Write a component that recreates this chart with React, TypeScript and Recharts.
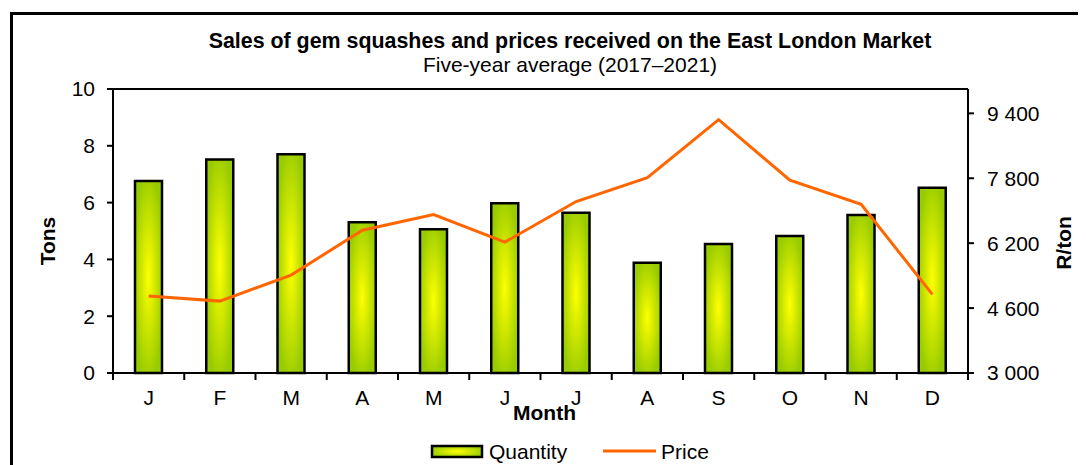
import React from 'react';
import {
  ComposedChart, Bar, Line, XAxis, YAxis, Legend, ReferenceLine,
} from 'recharts';

// monthly averages
const MONTHS = ['J', 'F', 'M', 'A', 'M', 'J', 'J', 'A', 'S', 'O', 'N', 'D'];
const QUANTITY = [6.76, 7.52, 7.7, 5.31, 5.06, 5.98, 5.64, 3.88, 4.54, 4.82, 5.56, 6.52];
const PRICE = [4895, 4772, 5412, 6520, 6906, 6225, 7226, 7817, 9245, 7751, 7160, 4937];
const TONS_TICKS = [0, 2, 4, 6, 8, 10];
const PRICE_TICKS = [3000, 4600, 6200, 7800, 9400];

const W = 1078;
const H = 457;
const MARGIN = { top: 81, right: 0, left: 0, bottom: 8 };
const LEFT_W = 105;
const RIGHT_W = 118;
const PLOT_W = W - LEFT_W - RIGHT_W;
const FONT = '"Liberation Sans", Arial, sans-serif';
const ORANGE = '#ff6600';

const data = MONTHS.map((m, i) => ({ month: m, quantity: QUANTITY[i], price: PRICE[i] }));

const fmtPrice = (v: number) => String(v).replace(/\B(?=(\d{3})+(?!\d))/g, ' ');

function MonthTick({ x, y, payload, index }: any) {
  const half = PLOT_W / MONTHS.length / 2;
  const last = index === MONTHS.length - 1;
  return (
    <g>
      <line x1={x - half} x2={x - half} y1={y} y2={y + 7} stroke="#000" strokeWidth={2} />
      {last && <line x1={x + half} x2={x + half} y1={y} y2={y + 7} stroke="#000" strokeWidth={2} />}
      <text x={x} y={y + 32} textAnchor="middle" fontSize={21} fontFamily={FONT} fill="#000">
        {payload.value}
      </text>
    </g>
  );
}

function ChartLegend() {
  return (
    <div style={{ position: 'relative', height: 24, width: W, fontFamily: FONT, fontSize: 21 }}>
      <svg width={56} height={24} style={{ position: 'absolute', left: 422, top: 0 }}>
        <rect x={2} y={6} width={50} height={11} fill="url(#gemGradLegend)" stroke="#000" strokeWidth={2.5} />
        <defs>
          <radialGradient id="gemGradLegend" cx="50%" cy="50%" r="55%">
            <stop offset="0%" stopColor="#ffff00" />
            <stop offset="100%" stopColor="#99cc00" />
          </radialGradient>
        </defs>
      </svg>
      <span style={{ position: 'absolute', left: 481, top: 0, lineHeight: '24px' }}>Quantity</span>
      <svg width={56} height={24} style={{ position: 'absolute', left: 595, top: 0 }}>
        <line x1={0} x2={53} y1={11} y2={11} stroke={ORANGE} strokeWidth={3} />
      </svg>
      <span style={{ position: 'absolute', left: 653, top: 0, lineHeight: '24px' }}>Price</span>
    </div>
  );
}

export default function App() {
  return (
    <div style={{ position: 'relative', width: W, height: H, overflow: 'hidden', fontFamily: FONT }}>
      <div
        style={{
          position: 'absolute', left: 2, top: 4, width: W - 5, height: H - 4,
          borderLeft: '3px solid #000', borderTop: '3px solid #000',
        }}
      />
      <div style={{ position: 'absolute', left: 62, width: 1000, top: 21, lineHeight: '24px', fontSize: 21.4, fontWeight: 'bold', textAlign: 'center' }}>
        Sales of gem squashes and prices received on the East London Market
      </div>
      <div style={{ position: 'absolute', left: 62, width: 1000, top: 45, lineHeight: '24px', fontSize: 21, textAlign: 'center' }}>
        Five-year average (2017–2021)
      </div>
      <ComposedChart width={W} height={H} data={data} margin={MARGIN}>
        <defs>
          <radialGradient id="gemGrad" cx="50%" cy="50%" r="55%">
            <stop offset="0%" stopColor="#ffff00" />
            <stop offset="100%" stopColor="#99cc00" />
          </radialGradient>
        </defs>
        <XAxis
          dataKey="month"
          height={60}
          tick={<MonthTick />}
          tickLine={false}
          tickSize={0}
          tickMargin={0}
          interval={0}
          axisLine={{ stroke: '#000', strokeWidth: 2 }}
          label={{
            content: ({ viewBox }: any) => (
              <text
                x={viewBox.x + viewBox.width / 2 + 4}
                y={viewBox.y + 47}
                textAnchor="middle"
                fontSize={21}
                fontWeight="bold"
                fontFamily={FONT}
                fill="#000"
              >
                Month
              </text>
            ),
          }}
        />
        <YAxis
          yAxisId="left"
          width={LEFT_W}
          domain={[0, 10]}
          ticks={TONS_TICKS}
          interval={0}
          tick={{ fontSize: 21, fill: '#000', fontFamily: FONT }}
          tickSize={6}
          tickMargin={12}
          tickLine={{ stroke: '#000', strokeWidth: 2 }}
          axisLine={{ stroke: '#000', strokeWidth: 2 }}
          label={{
            content: ({ viewBox }: any) => {
              const cx = viewBox.x + 39;
              const cy = viewBox.y + viewBox.height / 2 + 10;
              return (
                <text
                  x={cx}
                  y={cy}
                  transform={`rotate(-90 ${cx} ${cy})`}
                  textAnchor="middle"
                  dominantBaseline="central"
                  fontSize={21}
                  fontWeight="bold"
                  fontFamily={FONT}
                  fill="#000"
                >
                  Tons
                </text>
              );
            },
          }}
        />
        <YAxis
          yAxisId="right"
          orientation="right"
          width={RIGHT_W}
          domain={[3000, 10000]}
          ticks={PRICE_TICKS}
          interval={0}
          tickFormatter={fmtPrice}
          tick={{ fontSize: 21, fill: '#000', fontFamily: FONT }}
          tickSize={6}
          tickMargin={13}
          tickLine={{ stroke: '#000', strokeWidth: 2 }}
          axisLine={{ stroke: '#000', strokeWidth: 2 }}
          label={{
            content: ({ viewBox }: any) => {
              const cx = viewBox.x + 95;
              const cy = viewBox.y + viewBox.height / 2 + 12;
              return (
                <text
                  x={cx}
                  y={cy}
                  transform={`rotate(-90 ${cx} ${cy})`}
                  textAnchor="middle"
                  dominantBaseline="central"
                  fontSize={21}
                  fontWeight="bold"
                  fontFamily={FONT}
                  fill="#000"
                >
                  R/ton
                </text>
              );
            },
          }}
        />
        <ReferenceLine yAxisId="left" y={10} stroke="#000" strokeWidth={2} />
        <Legend
          verticalAlign="bottom"
          wrapperStyle={{ top: 432, left: 0, width: W }}
          content={<ChartLegend />}
        />
        <Bar
          yAxisId="left"
          dataKey="quantity"
          name="Quantity"
          barSize={27}
          fill="url(#gemGrad)"
          stroke="#000"
          strokeWidth={2.5}
          isAnimationActive={false}
        />
        <Line
          yAxisId="right"
          dataKey="price"
          name="Price"
          type="linear"
          stroke={ORANGE}
          strokeWidth={3}
          dot={false}
          activeDot={false}
          isAnimationActive={false}
        />
      </ComposedChart>
    </div>
  );
}
